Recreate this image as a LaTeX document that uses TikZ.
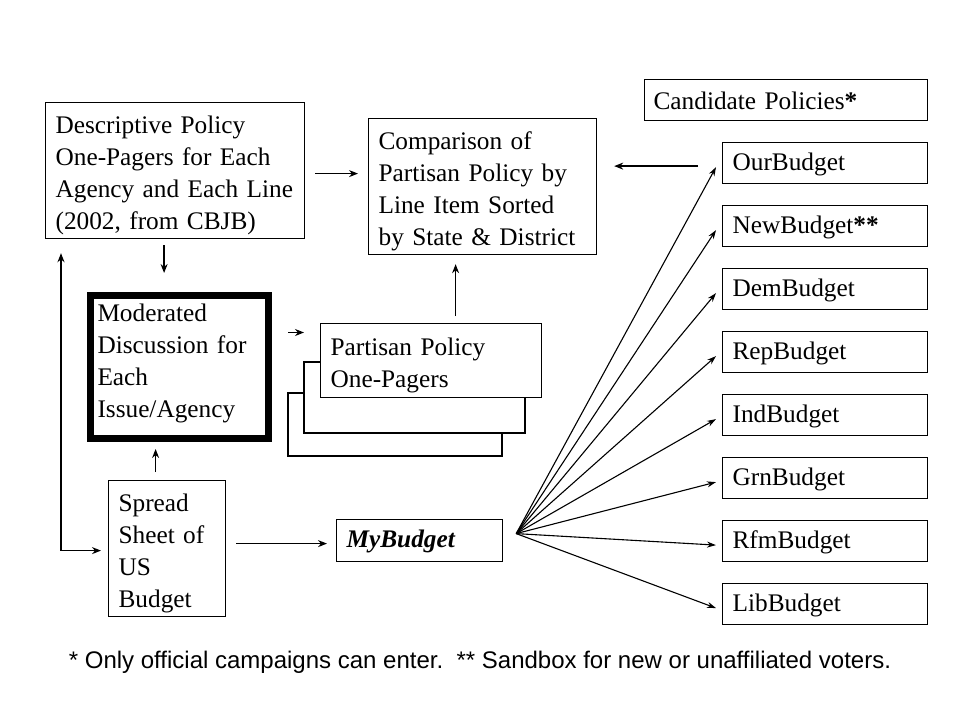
\documentclass[tikz,border=0pt]{standalone}
\usepackage{fontspec}
\setmainfont{Liberation Serif}
\newfontfamily\notefont{Liberation Sans}
\usetikzlibrary{arrows.meta,calc}
\newcommand{\oneline}[1]{\mbox{#1}}
\begin{document}
\begin{tikzpicture}[x=1pt,y=-1pt,
  box/.style={draw=black,line width=1.2pt,rectangle,anchor=north west,inner sep=0pt,
    font=\fontsize{25.3}{32}\selectfont,align=left},
  toprule/.style={execute at begin node={\rule{0pt}{#1}}},
  mbox/.style={box,toprule=27pt},
  sbox/.style={box,toprule=20pt},
  arr/.style={line width=1.3pt,-{Stealth[length=9pt,width=7pt]}},
  fanarr/.style={line width=1.1pt,-{Stealth[length=9pt,width=6pt]}}]
\useasboundingbox[fill=white] (0,0) rectangle (960,720);
% boxes
\node[mbox,minimum width=259pt,minimum height=136pt,text width=239pt] (desc) at (45,102)
  {\oneline{Descriptive Policy}\\\oneline{One-Pagers for Each}\\\oneline{Agency and Each Line}\\\oneline{(2002, from CBJB)}};
\node[mbox,minimum width=228pt,minimum height=136pt,text width=208pt] (cmp) at (368,118)
  {\oneline{Comparison of}\\\oneline{Partisan Policy by}\\\oneline{Line Item Sorted}\\\oneline{by State \& District}};
\node[sbox,minimum width=283pt,minimum height=41pt,text width=265pt] (cand) at (644,79)
  {\oneline{Candidate Policies\textbf{*}}};
\foreach \n/\t [count=\i from 0] in {our/OurBudget,new/NewBudget\textbf{**},dem/DemBudget,rep/RepBudget,ind/IndBudget,grn/GrnBudget,rfm/RfmBudget,lib/LibBudget}{
  \node[sbox,minimum width=205pt,minimum height=41pt,text width=185pt] (\n) at (722,142+63*\i) {\oneline{\t}};
}
\node[box,line width=7pt,minimum width=178pt,minimum height=143pt,text width=163pt] (mod) at (86.5,291.5)
  {\oneline{Moderated}\\\oneline{Discussion for}\\\oneline{Each}\\\oneline{Issue/Agency}\rule[-12pt]{0pt}{12pt}};
\draw[line width=1.2pt] (288,393) rectangle (502,456);
\draw[line width=1.2pt,fill=white] (304,362) rectangle (525,433);
\node[mbox,fill=white,minimum width=221pt,minimum height=74pt,text width=201pt] (par) at (320,323)
  {\oneline{Partisan Policy}\\\oneline{One-Pagers}};
\node[mbox,minimum width=117pt,minimum height=136pt,text width=97pt] (sps) at (108,480)
  {\oneline{Spread}\\\oneline{Sheet of}\\\oneline{US}\\\oneline{Budget}};
\node[sbox,minimum width=166pt,minimum height=42pt,text width=146pt] (my) at (336,519)
  {\oneline{\textbf{\textit{MyBudget}}}};
% arrows
\coordinate (a1) at ($(desc.east)+(10,3)$);
\draw[arr,shorten >=10pt] (a1) -- (a1 -| cmp.west);
\coordinate (a2) at ($(our.west)+(-24,3)$);
\draw[arr,shorten >=17pt] (a2) -- (a2 -| cmp.east);
\coordinate (a3) at ($(desc.south)+(-11,6)$);
\draw[arr,shorten >=18.5pt] (a3) -- (a3 |- mod.north);
\coordinate (a4) at ($(mod.east)+(16.5,-34)$);
\draw[arr,shorten >=16pt] (a4) -- (a4 -| par.west);
\coordinate (a5) at ($(par.north)+(24.5,-7)$);
\draw[arr,shorten >=9pt] (a5) -- (a5 |- cmp.south);
\coordinate (a6) at ($(sps.north)+(-11.5,-8)$);
\draw[arr,shorten >=7.5pt] (a6) -- (a6 |- mod.south);
\coordinate (corner) at ($(sps.west)+(-47,2)$);
\draw[line width=1.3pt,{Stealth[length=9pt,width=7pt]}-{Stealth[length=9pt,width=7pt]}]
  (corner |- desc.south) ++(0,14) -- (corner) -- ($(sps.west)+(-7,2)$);
\coordinate (a8) at ($(sps.east)+(10,-5)$);
\draw[arr,shorten >=9pt] (a8) -- (a8 -| my.west);
\coordinate (fan) at ($(my.east)+(13,-7)$);
\foreach \n in {our,new,dem,rep,ind,grn,rfm,lib}{
  \draw[fanarr] (fan) -- ($(\n.west)+(-6,4)$);
}
% footnote
\node[font=\notefont\fontsize{24}{28}\selectfont] (note) at (480,662)
  {* Only official campaigns can enter.\ \ ** Sandbox for new or unaffiliated voters.};
\end{tikzpicture}
\end{document}
